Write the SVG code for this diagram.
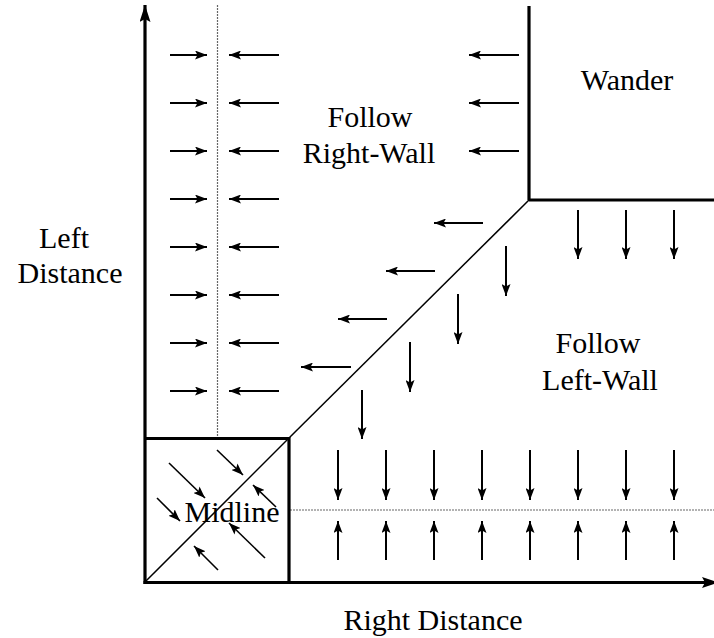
<svg xmlns="http://www.w3.org/2000/svg" width="714" height="638" viewBox="0 0 714 638">
<defs>
<marker id="ah" markerUnits="userSpaceOnUse" markerWidth="12" markerHeight="9" refX="12" refY="4.5" orient="auto" viewBox="0 0 12 9">
<path d="M0,0 L12,4.5 L0,9 L2.5,4.5 z" fill="#000" stroke="none"/>
</marker>
<marker id="axh" markerUnits="userSpaceOnUse" markerWidth="17" markerHeight="11" refX="17" refY="5.5" orient="auto" viewBox="0 0 17 11">
<path d="M0,0 L17,5.5 L0,11 L3,5.5 z" fill="#000" stroke="none"/>
</marker>
</defs>
<rect width="714" height="638" fill="#fff"/>

<g id="boundaries" fill="none" stroke="#000">
<g stroke="#666" stroke-width="1.2" stroke-dasharray="2 1">
<line x1="217.5" y1="5" x2="217.5" y2="438"/>
<line x1="290" y1="510" x2="714" y2="510"/>
</g>
<g stroke-width="3.2">
<line x1="529" y1="6" x2="529" y2="200"/>
<line x1="529" y1="200" x2="714" y2="200"/>
<polyline points="145,438.5 289,438.5 289,582"/>
</g>
<g stroke-width="1.5">
<line x1="529" y1="200" x2="289" y2="438"/>
<line x1="145" y1="582" x2="289" y2="438"/>
</g>
</g>

<g id="axes" fill="none" stroke="#000" stroke-width="3.2" marker-end="url(#axh)">
<line x1="145" y1="584" x2="145" y2="5"/>
<line x1="143.5" y1="582.5" x2="719" y2="582.5"/>
</g>

<g id="labels" font-family="Liberation Serif" font-size="30" text-anchor="middle" fill="#000">
<g id="axis-left-label">
<text x="64" y="248">Left</text>
<text x="70" y="283">Distance</text>
</g>
<g id="axis-bottom-label">
<text x="433" y="630">Right Distance</text>
</g>
<g id="wander">
<text x="627" y="90">Wander</text>
</g>
<g id="follow-right-wall">
<text x="370" y="127">Follow</text>
<text x="369" y="163">Right-Wall</text>
</g>
<g id="follow-left-wall">
<text x="598" y="353">Follow</text>
<text x="600" y="390">Left-Wall</text>
</g>
<g id="midline">
<text x="232" y="522">Midline</text>
</g>
</g>

<g id="connectors" fill="none" stroke="#000" stroke-width="2" marker-end="url(#ah)">
<line x1="170" y1="55" x2="207" y2="55"/>
<line x1="170" y1="103" x2="207" y2="103"/>
<line x1="170" y1="151" x2="207" y2="151"/>
<line x1="170" y1="199" x2="207" y2="199"/>
<line x1="170" y1="247" x2="207" y2="247"/>
<line x1="170" y1="295" x2="207" y2="295"/>
<line x1="170" y1="343" x2="207" y2="343"/>
<line x1="170" y1="391" x2="207" y2="391"/>
<line x1="279" y1="55" x2="229" y2="55"/>
<line x1="279" y1="103" x2="229" y2="103"/>
<line x1="279" y1="151" x2="229" y2="151"/>
<line x1="279" y1="199" x2="229" y2="199"/>
<line x1="279" y1="247" x2="229" y2="247"/>
<line x1="279" y1="295" x2="229" y2="295"/>
<line x1="279" y1="343" x2="229" y2="343"/>
<line x1="279" y1="391" x2="229" y2="391"/>
<line x1="519" y1="55" x2="469" y2="55"/>
<line x1="519" y1="103" x2="469" y2="103"/>
<line x1="519" y1="151" x2="469" y2="151"/>
<line x1="483" y1="223" x2="434" y2="223"/>
<line x1="435" y1="271" x2="386" y2="271"/>
<line x1="387" y1="319" x2="338" y2="319"/>
<line x1="351" y1="367" x2="301" y2="367"/>
<line x1="506" y1="246" x2="506" y2="296"/>
<line x1="458" y1="294" x2="458" y2="344"/>
<line x1="410" y1="342" x2="410" y2="392"/>
<line x1="362" y1="390" x2="362" y2="439"/>
<line x1="578" y1="210" x2="578" y2="259"/>
<line x1="626" y1="210" x2="626" y2="259"/>
<line x1="674" y1="210" x2="674" y2="259"/>
<line x1="338" y1="450" x2="338" y2="500"/>
<line x1="386" y1="450" x2="386" y2="500"/>
<line x1="434" y1="450" x2="434" y2="500"/>
<line x1="482" y1="450" x2="482" y2="500"/>
<line x1="530" y1="450" x2="530" y2="500"/>
<line x1="578" y1="450" x2="578" y2="500"/>
<line x1="626" y1="450" x2="626" y2="500"/>
<line x1="674" y1="450" x2="674" y2="500"/>
<line x1="338" y1="560" x2="338" y2="521"/>
<line x1="386" y1="560" x2="386" y2="521"/>
<line x1="434" y1="560" x2="434" y2="521"/>
<line x1="482" y1="560" x2="482" y2="521"/>
<line x1="530" y1="560" x2="530" y2="521"/>
<line x1="578" y1="560" x2="578" y2="521"/>
<line x1="626" y1="560" x2="626" y2="521"/>
<line x1="674" y1="560" x2="674" y2="521"/>
<g stroke-width="1.6">
<line x1="169" y1="463" x2="205" y2="498"/>
<line x1="217" y1="450" x2="243" y2="475"/>
<line x1="157" y1="498" x2="180" y2="521"/>
<line x1="276" y1="507" x2="253" y2="485"/>
<line x1="265" y1="558" x2="229" y2="523"/>
<line x1="218" y1="570" x2="194" y2="546"/>
</g>
</g>
</svg>
